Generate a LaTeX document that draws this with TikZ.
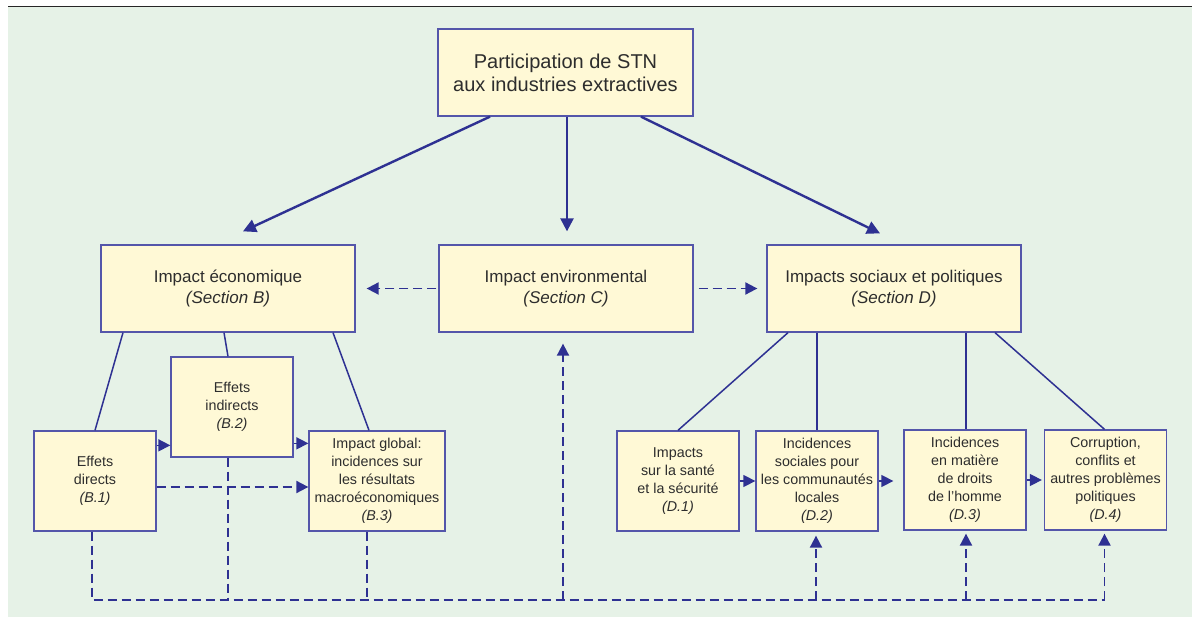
\documentclass[tikz,border=0pt]{standalone}
\usepackage{fontspec}
\setmainfont{Liberation Sans}
\usepackage{xcolor}
\usetikzlibrary{arrows.meta}
\definecolor{bggreen}{RGB}{230,242,231}
\definecolor{boxyellow}{RGB}{255,249,214}
\definecolor{linkblue}{RGB}{46,49,146}
\definecolor{edgeblue}{RGB}{84,86,170}
\definecolor{txtgrey}{RGB}{45,45,45}
\tikzset{
	bigbox/.style={draw=edgeblue, line width=1.3pt, fill=boxyellow, text=txtgrey, align=center, inner sep=0pt, minimum width=255pt, minimum height=87pt, font=\fontsize{20}{23}\selectfont},
	secbox/.style={bigbox, minimum width=254pt, font=\fontsize{17}{21}\selectfont},
	subbox/.style={bigbox, minimum width=122pt, minimum height=100pt, font=\fontsize{14.3}{18}\selectfont},
	link/.style={draw=linkblue, line width=1.5pt},
	mainarrow/.style={draw=linkblue, line width=2.4pt, -{Triangle[length=13pt,width=13pt]}},
	solidtip/.style={link, -{Triangle[length=12pt,width=12pt]}},
	dashline/.style={link, line width=1.9pt, dash pattern=on 9pt off 5pt},
	dasharrow/.style={dashline, -{Triangle[length=12pt,width=12pt]}},
}
\begin{document}
\begin{tikzpicture}[x=1pt,y=-1pt]
	\useasboundingbox (0,0) rectangle (1192,617);
	\fill[bggreen] (8,7.5) rectangle (1192,617);
	\draw[black!85, line width=1.4pt] (8,6.5) -- (1192,6.5);

	\node[bigbox] (top) at (565.5,72.5) {Participation de STN\\aux industries extractives};
	\node[secbox] (eco) at (228,288.5) {Impact économique\\\textit{(Section B)}};
	\node[secbox] (env) at (566,288.5) {Impact environmental\\\textit{(Section C)}};
	\node[secbox] (soc) at (894,288.5) {Impacts sociaux et politiques\\\textit{(Section D)}};

	\node[subbox] (b1) at (95,481) {Effets\\directs\\\textit{(B.1)}};
	\node[subbox] (b2) at (232,407) {Effets\\indirects\\\textit{(B.2)}};
	\node[subbox, minimum width=136pt] (b3) at (377,481) {Impact global:\\incidences sur\\les résultats\\macroéconomiques\\\textit{(B.3)}};
	\node[subbox] (d1) at (678,481) {Impacts\\sur la santé\\et la sécurité\\\textit{(D.1)}};
	\node[subbox] (d2) at (817,481) {Incidences\\sociales pour\\les communautés\\locales\\\textit{(D.2)}};
	\node[subbox] (d3) at (965,480) {Incidences\\en matière\\de droits\\de l’homme\\\textit{(D.3)}};
	\node[subbox] (d4) at (1105.5,480) {Corruption,\\conflits et\\autres problèmes\\politiques\\\textit{(D.4)}};

	\draw[mainarrow] ([xshift=-75.5pt]top.south) -- ([xshift=15pt,yshift=13pt]eco.north);
	\draw[mainarrow] ([xshift=1.5pt]top.south) -- ([xshift=1pt,yshift=13pt]env.north);
	\draw[mainarrow] ([xshift=75.5pt]top.south) -- ([xshift=-14pt,yshift=11pt]soc.north);

	\draw[link] ([xshift=-105pt]eco.south) -- (b1.north);
	\draw[link] ([xshift=-4pt]eco.south) -- ([xshift=-4pt]b2.north);
	\draw[link] ([xshift=105pt]eco.south) -- ([xshift=-8pt]b3.north);
	\draw[link] ([xshift=-106pt]soc.south) -- (d1.north);
	\draw[link] ([xshift=-77pt]soc.south) -- (d2.north);
	\draw[link] ([xshift=72pt]soc.south) -- ([xshift=1pt]d3.north);
	\draw[link] ([xshift=101pt]soc.south) -- ([xshift=-1pt]d4.north);

	\draw[dasharrow, shorten <=2pt, shorten >=11pt] (env.west) -- (eco.east);
	\draw[dasharrow, shorten <=5pt, shorten >=9pt] (env.east) -- (soc.west);

	\coordinate (b12) at ([yshift=-15pt]b1.north east);
	\coordinate (b23) at ([yshift=-13pt]b3.north west);
	\coordinate (b13) at ([yshift=-6pt]b1.east);
	\draw[solidtip] (b12) -- (b12 -| b2.west);
	\draw[solidtip] (b23 -| b2.east) -- (b23);
	\draw[dasharrow] (b13) -- (b13 -| b3.west);
	\draw[solidtip] (d1.east) -- (d1.east -| d2.west);
	\draw[solidtip, shorten >=10pt] (d2.east) -- (d2.east -| d3.west);
	\draw[solidtip, shorten >=2pt] (d3.east) -- (d3.east -| d4.west);

	\coordinate (base) at (0,600);
	\coordinate (p1) at ([xshift=-3pt]b1.south);
	\coordinate (p2) at ([xshift=-4pt]b2.south);
	\coordinate (p3) at ([xshift=-10pt]b3.south);
	\coordinate (p4) at ([xshift=-1pt]d4.south);
	\draw[dashline] (p1) |- (base -| p4);
	\draw[dashline] (p2) -- (p2 |- base);
	\draw[dashline] (p3) -- (p3 |- base);
	\foreach \n/\dx/\gap in {env/-3/11, d2/-1/4, d3/1/3, d4/-1/3}{
		\coordinate (q) at ([xshift=\dx pt]\n.south);
		\draw[dasharrow] (q |- base) -- ([yshift=-\gap pt]q);
	}
\end{tikzpicture}
\end{document}
